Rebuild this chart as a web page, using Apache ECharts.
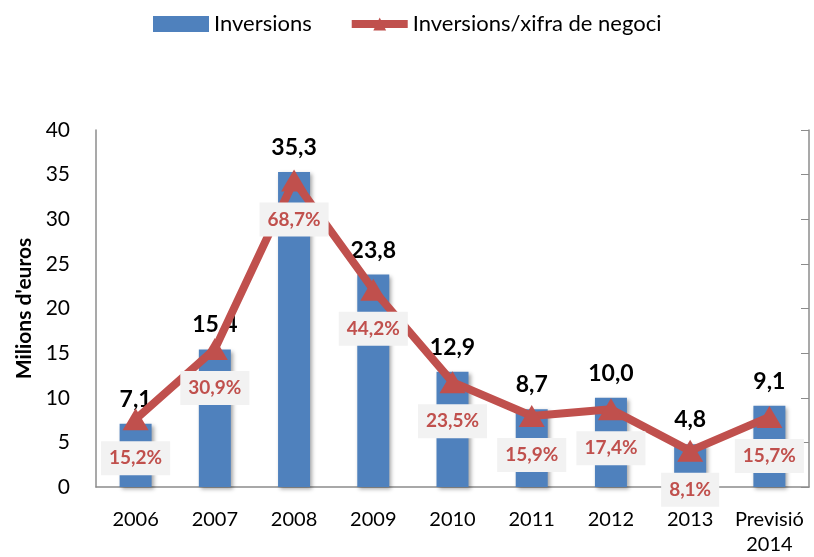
<!DOCTYPE html>
<html>
<head>
<meta charset="utf-8">
<script src="https://cdn.jsdelivr.net/npm/echarts@6/dist/echarts.min.js"></script>
<style>
  html, body { margin: 0; padding: 0; background: #fff; }
  #chart { width: 814px; height: 557px; }
</style>
</head>
<body>
<div id="chart"></div>
<script>
const categories = ['2006', '2007', '2008', '2009', '2010', '2011', '2012', '2013', 'Previsió\n2014'];
const inversions = [7.1, 15.4, 35.3, 23.8, 12.9, 8.7, 10.0, 4.8, 9.1];
const ratio = [15.2, 30.9, 68.7, 44.2, 23.5, 15.9, 17.4, 8.1, 15.7];

const fmt = v => v.toFixed(1).replace('.', ',');
const axisGray = '#8c8c8c';
const font = 'Lato, "Open Sans", sans-serif';

const chart = echarts.init(document.getElementById('chart'));
chart.setOption({
    animation: false,
    textStyle: { fontFamily: font },
    legend: {
        top: 8,
        left: 148,
        itemWidth: 56,
        itemHeight: 16,
        itemGap: 36,
        lineStyle: { width: 8 },
        textStyle: { fontSize: 22, color: '#000', fontFamily: font },
        data: [
            { name: 'Inversions', icon: 'rect' },
            'Inversions/xifra de negoci'
        ]
    },
    grid: { left: 96, right: 5, top: 130, bottom: 69 },
    xAxis: {
        type: 'category',
        data: categories,
        axisLine: { lineStyle: { color: axisGray, width: 1.5 } },
        axisTick: { show: false },
        axisLabel: { fontSize: 20, color: '#000', margin: 20, lineHeight: 25, interval: 0 }
    },
    yAxis: [
        {
            type: 'value',
            min: 0,
            max: 40,
            interval: 5,
            name: "Milions d'euros",
            nameLocation: 'middle',
            nameGap: 58,
            nameTextStyle: { fontSize: 21, fontWeight: 'bold', color: '#000' },
            axisLine: { show: true, lineStyle: { color: axisGray, width: 1.5 } },
            axisTick: { show: false },
            splitLine: { show: false },
            axisLabel: { fontSize: 21, color: '#000', margin: 26 }
        },
        {
            type: 'value',
            min: 0,
            max: 80,
            interval: 10,
            position: 'right',
            axisLine: { show: true, lineStyle: { color: axisGray, width: 1.5 } },
            axisTick: { show: true, inside: true, length: 8, lineStyle: { color: axisGray } },
            splitLine: { show: false },
            axisLabel: { show: false }
        }
    ],
    series: [
        {
            name: 'Inversions',
            type: 'bar',
            data: inversions,
            barWidth: 32,
            itemStyle: {
                color: '#4F81BD',
                shadowColor: 'rgba(0,0,0,0.35)',
                shadowBlur: 4,
                shadowOffsetX: 2,
                shadowOffsetY: 2
            },
            label: {
                show: true,
                position: 'top',
                distance: 13,
                fontSize: 23,
                fontWeight: 'bold',
                color: '#000',
                formatter: p => fmt(p.value)
            }
        },
        {
            name: 'Inversions/xifra de negoci',
            type: 'line',
            yAxisIndex: 1,
            data: ratio,
            symbol: 'triangle',
            symbolSize: [26, 22],
            lineStyle: { color: '#C0504D', width: 8 },
            itemStyle: { color: '#C0504D' },
            z: 3,
            label: {
                show: true,
                position: 'bottom',
                distance: 11,
                fontSize: 19,
                fontWeight: 'bold',
                color: '#C0504D',
                backgroundColor: '#F2F2F2',
                padding: [6, 8],
                lineHeight: 22,
                formatter: p => fmt(p.value) + '%'
            }
        }
    ]
});
</script>
</body>
</html>
